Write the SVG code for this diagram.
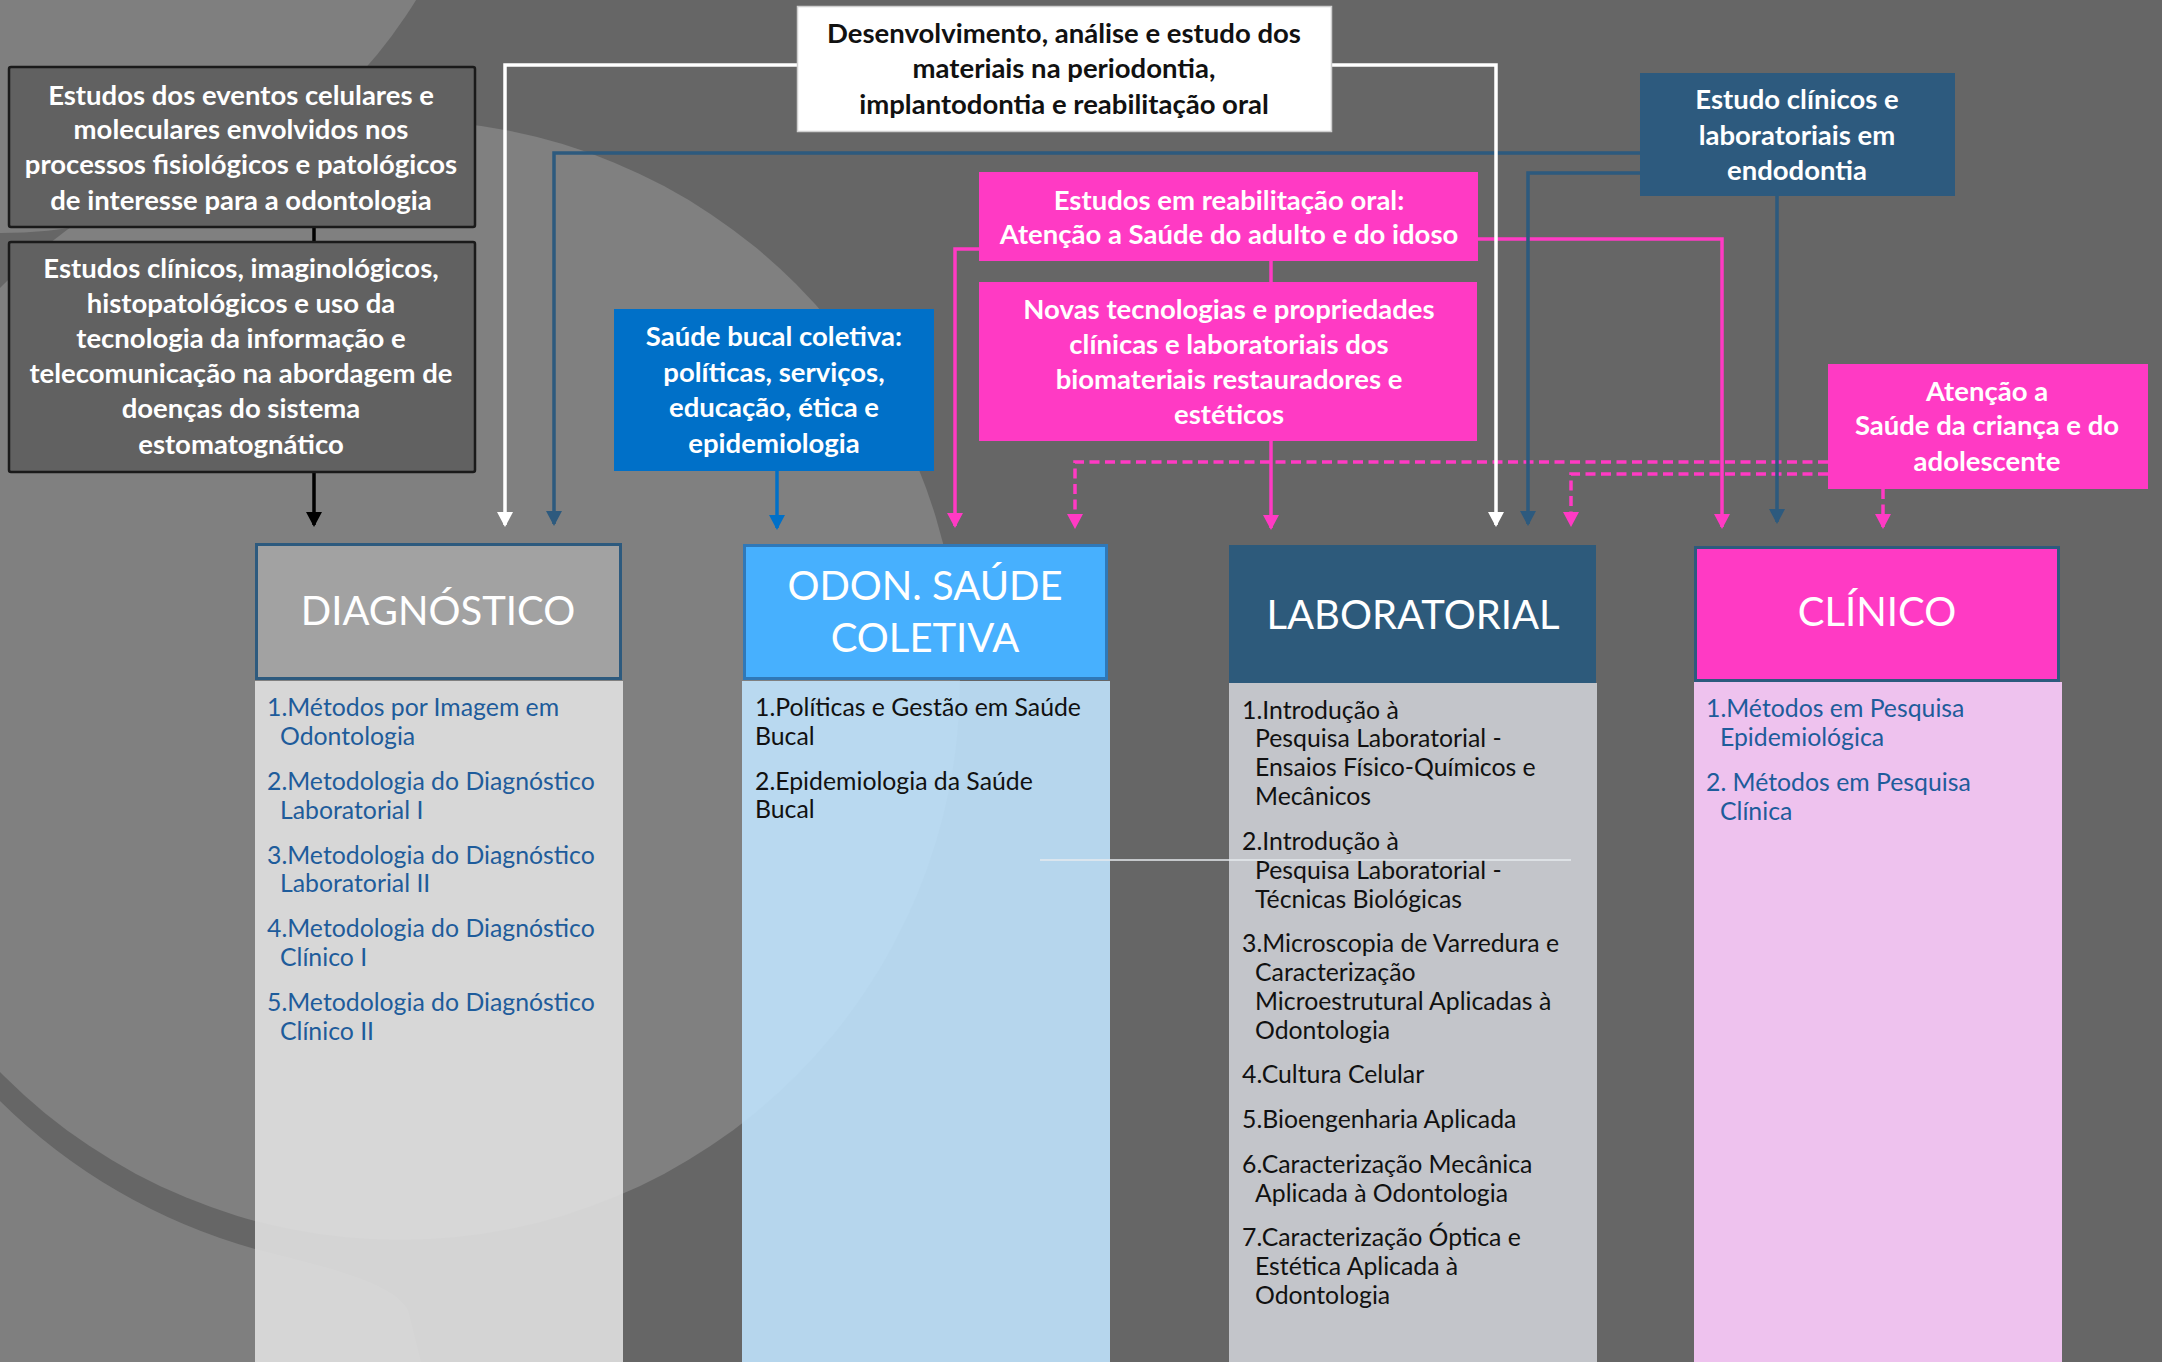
<svg xmlns="http://www.w3.org/2000/svg" width="2162" height="1362" viewBox="0 0 2162 1362">
<defs>
<style>
.bt{font-family:Lato,"Liberation Sans",sans-serif;font-weight:700;font-size:27.5px;text-anchor:middle;fill:#fff}
.dk{fill:#111}
.hd{font-family:Lato,"Liberation Sans",sans-serif;font-size:40px;text-anchor:middle;fill:#fff}
.it{font-family:Lato,"Liberation Sans",sans-serif;font-size:24.8px;fill:#111}
.bl{fill:#1e5c9b}
.ln{fill:none;stroke-width:3.5}
.pk{stroke:#ff3ac4}
.db{stroke:#2d5a7e}
.wh{stroke:#fff}
.bk{stroke:#000}
.mb{stroke:#0070c8}
.dash{stroke-dasharray:10 5.5}
</style>
<marker id="aw" markerUnits="userSpaceOnUse" viewBox="0 0 15 16" markerWidth="15" markerHeight="16" refX="13" refY="8" orient="auto"><path d="M0,0L15,8L0,16z" fill="#fff"/></marker>
<marker id="adb" markerUnits="userSpaceOnUse" viewBox="0 0 15 16" markerWidth="15" markerHeight="16" refX="13" refY="8" orient="auto"><path d="M0,0L15,8L0,16z" fill="#2d5a7e"/></marker>
<marker id="apk" markerUnits="userSpaceOnUse" viewBox="0 0 15 16" markerWidth="15" markerHeight="16" refX="13" refY="8" orient="auto"><path d="M0,0L15,8L0,16z" fill="#ff3ac4"/></marker>
<marker id="abk" markerUnits="userSpaceOnUse" viewBox="0 0 15 16" markerWidth="15" markerHeight="16" refX="13" refY="8" orient="auto"><path d="M0,0L15,8L0,16z" fill="#000"/></marker>
<marker id="amb" markerUnits="userSpaceOnUse" viewBox="0 0 15 16" markerWidth="15" markerHeight="16" refX="13" refY="8" orient="auto"><path d="M0,0L15,8L0,16z" fill="#0070c8"/></marker>
</defs>

<g id="background">
<rect x="0" y="0" width="2162" height="1362" fill="#666666"/>
<circle cx="0" cy="-255" r="488" fill="#7f7f7f"/>
<path d="M0,1101 A585,585 0 0 0 255,1249 C330,1268 392,1282 408,1310 L421,1362 L0,1362 Z" fill="#7f7f7f"/>
<circle cx="400" cy="680" r="560" fill="#808080"/>
</g>

<g id="col-diagnostico">
<rect x="255" y="681" width="368" height="690" fill="#e0e0e0" fill-opacity="0.9"/>
<rect x="256.5" y="544.5" width="364" height="134" fill="#a2a2a2" stroke="#2d5a7e" stroke-width="3"/>
<text class="hd" x="438" y="625">DIAGNÓSTICO</text>
<g class="it bl">
<text x="267" y="716">1.Métodos por Imagem em</text>
<text x="280" y="745">Odontologia</text>
<text x="267" y="790">2.Metodologia do Diagnóstico</text>
<text x="280" y="819">Laboratorial I</text>
<text x="267" y="864">3.Metodologia do Diagnóstico</text>
<text x="280" y="892">Laboratorial II</text>
<text x="267" y="937">4.Metodologia do Diagnóstico</text>
<text x="280" y="966">Clínico I</text>
<text x="267" y="1011">5.Metodologia do Diagnóstico</text>
<text x="280" y="1040">Clínico II</text>
</g>
</g>

<g id="col-saude-coletiva">
<rect x="742" y="681" width="368" height="690" fill="#bfe2fc" fill-opacity="0.9"/>
<rect x="744.5" y="545.5" width="362" height="133" fill="#47b0fe" stroke="#2f78b8" stroke-width="3"/>
<text class="hd" x="925" y="600">ODON. SAÚDE</text>
<text class="hd" x="925" y="652">COLETIVA</text>
<g class="it">
<text x="755" y="716">1.Políticas e Gestão em Saúde</text>
<text x="755" y="745">Bucal</text>
<text x="755" y="790">2.Epidemiologia da Saúde</text>
<text x="755" y="818">Bucal</text>
</g>
</g>

<g id="col-laboratorial">
<rect x="1229" y="683" width="368" height="690" fill="#cbcdd2" fill-opacity="0.92"/>
<rect x="1229" y="545" width="367" height="138" fill="#2d5a7b"/>
<text class="hd" x="1413" y="629">LABORATORIAL</text>
<g class="it">
<text x="1242" y="719">1.Introdução à</text>
<text x="1255" y="747">Pesquisa Laboratorial -</text>
<text x="1255" y="776">Ensaios Físico-Químicos e</text>
<text x="1255" y="805">Mecânicos</text>
<text x="1242" y="850">2.Introdução à</text>
<text x="1255" y="879">Pesquisa Laboratorial -</text>
<text x="1255" y="908">Técnicas Biológicas</text>
<text x="1242" y="952">3.Microscopia de Varredura e</text>
<text x="1255" y="981">Caracterização</text>
<text x="1255" y="1010">Microestrutural Aplicadas à</text>
<text x="1255" y="1039">Odontologia</text>
<text x="1242" y="1083">4.Cultura Celular</text>
<text x="1242" y="1128">5.Bioengenharia Aplicada</text>
<text x="1242" y="1173">6.Caracterização Mecânica</text>
<text x="1255" y="1202">Aplicada à Odontologia</text>
<text x="1242" y="1246">7.Caracterização Óptica e</text>
<text x="1255" y="1275">Estética Aplicada à</text>
<text x="1255" y="1304">Odontologia</text>
</g>
</g>

<g id="col-clinico">
<rect x="1694" y="682" width="368" height="690" fill="#facafa" fill-opacity="0.92"/>
<rect x="1695.5" y="547.5" width="363" height="133" fill="#ff3ac4" stroke="#2d5a7e" stroke-width="3"/>
<text class="hd" x="1877" y="626">CLÍNICO</text>
<g class="it bl">
<text x="1706" y="717">1.Métodos em Pesquisa</text>
<text x="1720" y="746">Epidemiológica</text>
<text x="1706" y="791">2. Métodos em Pesquisa</text>
<text x="1720" y="820">Clínica</text>
</g>
</g>

<g id="divider-line">
<line x1="1040" y1="860" x2="1571" y2="860" stroke="#e6eaee" stroke-width="1.5"/>
</g>

<g id="connectors">
<path class="ln pk dash" d="M1828,462H1075V527" marker-end="url(#apk)"/>
<path class="ln pk dash" d="M1828,474H1571V525" marker-end="url(#apk)"/>
<path class="ln pk dash" d="M1883,489V527" marker-end="url(#apk)"/>
<path class="ln pk" d="M979,249H955V526" marker-end="url(#apk)"/>
<path class="ln pk" d="M1478,239H1722V527" marker-end="url(#apk)"/>
<path class="ln pk" d="M1271,261V283"/>
<path class="ln pk" d="M1271,441V528" marker-end="url(#apk)"/>
<path class="ln db" d="M1640,153H554V524" marker-end="url(#adb)"/>
<path class="ln db" d="M1640,173H1528V524" marker-end="url(#adb)"/>
<path class="ln db" d="M1777,196V522" marker-end="url(#adb)"/>
<path class="ln wh" d="M797,65H505V525" marker-end="url(#aw)"/>
<path class="ln wh" d="M1332,65H1496V525" marker-end="url(#aw)"/>
<path class="ln bk" d="M314,228V241"/>
<path class="ln bk" d="M314,473V525" marker-end="url(#abk)"/>
<path class="ln mb" d="M777,471V528" marker-end="url(#amb)"/>
</g>

<g id="node-eventos-celulares">
<rect x="9" y="67" width="466" height="160" rx="2" fill="#616161" stroke="#1a1a1a" stroke-width="2.5"/>
<text class="bt" x="241" y="105">Estudos dos eventos celulares e</text>
<text class="bt" x="241" y="139">moleculares envolvidos nos</text>
<text class="bt" x="241" y="174">processos fisiológicos e patológicos</text>
<text class="bt" x="241" y="210">de interesse para a odontologia</text>
</g>

<g id="node-estudos-clinicos">
<rect x="9" y="242" width="466" height="230" rx="2" fill="#616161" stroke="#1a1a1a" stroke-width="2.5"/>
<text class="bt" x="241" y="278">Estudos clínicos, imaginológicos,</text>
<text class="bt" x="241" y="313">histopatológicos e uso da</text>
<text class="bt" x="241" y="348">tecnologia da informação e</text>
<text class="bt" x="241" y="383">telecomunicação na abordagem de</text>
<text class="bt" x="241" y="418">doenças do sistema</text>
<text class="bt" x="241" y="454">estomatognático</text>
</g>

<g id="node-materiais">
<rect x="797.5" y="6.5" width="534" height="125" fill="#fff" stroke="#cfcfcf" stroke-width="1.5"/>
<text class="bt dk" x="1064" y="43">Desenvolvimento, análise e estudo dos</text>
<text class="bt dk" x="1064" y="78">materiais na periodontia,</text>
<text class="bt dk" x="1064" y="114">implantodontia e reabilitação oral</text>
</g>

<g id="node-endodontia">
<rect x="1640" y="73" width="315" height="123" fill="#2d5a7e"/>
<text class="bt" x="1797" y="109">Estudo clínicos e</text>
<text class="bt" x="1797" y="145">laboratoriais em</text>
<text class="bt" x="1797" y="180">endodontia</text>
</g>

<g id="node-reabilitacao">
<rect x="979" y="172" width="499" height="89" fill="#ff3ac4"/>
<text class="bt" x="1229" y="210">Estudos em reabilitação oral:</text>
<text class="bt" x="1229" y="244">Atenção a Saúde do adulto e do idoso</text>
</g>

<g id="node-novas-tecnologias">
<rect x="979" y="282" width="498" height="159" fill="#ff3ac4"/>
<text class="bt" x="1229" y="319">Novas tecnologias e propriedades</text>
<text class="bt" x="1229" y="354">clínicas e laboratoriais dos</text>
<text class="bt" x="1229" y="389">biomateriais restauradores e</text>
<text class="bt" x="1229" y="424">estéticos</text>
</g>

<g id="node-saude-bucal">
<rect x="614" y="309" width="320" height="162" fill="#0070c8"/>
<text class="bt" x="774" y="346">Saúde bucal coletiva:</text>
<text class="bt" x="774" y="382">políticas, serviços,</text>
<text class="bt" x="774" y="417">educação, ética e</text>
<text class="bt" x="774" y="453">epidemiologia</text>
</g>

<g id="node-crianca">
<rect x="1828" y="364" width="320" height="125" fill="#ff3ac4"/>
<text class="bt" x="1987" y="401">Atenção a</text>
<text class="bt" x="1987" y="435">Saúde da criança e do</text>
<text class="bt" x="1987" y="471">adolescente</text>
</g>
</svg>
